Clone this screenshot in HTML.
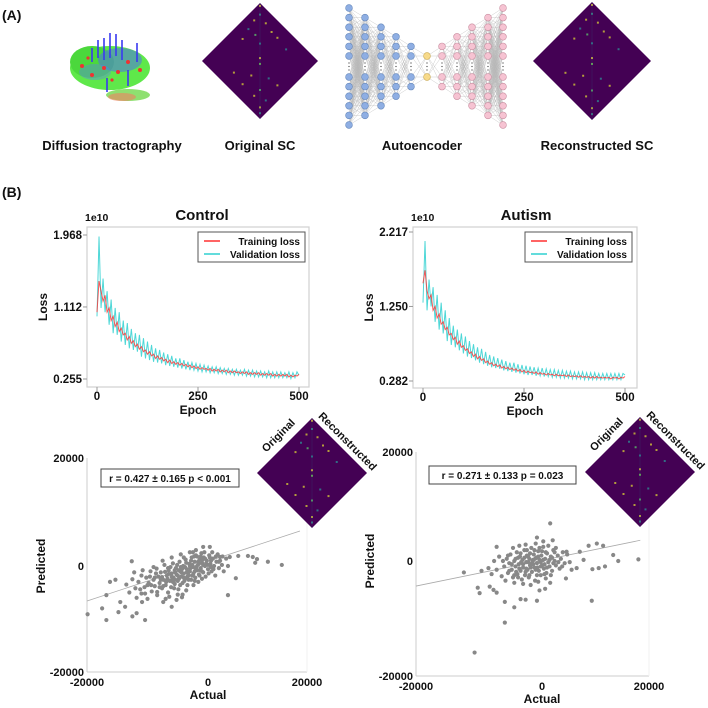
<!DOCTYPE html>
<html><head><meta charset="utf-8"><style>
html,body{margin:0;padding:0;background:#fff}
svg{display:block}
text{font-family:"Liberation Sans",Arial,sans-serif;font-weight:bold;fill:#111}
</style></head><body>
<svg id="fig" width="708" height="708" viewBox="0 0 708 708" xmlns="http://www.w3.org/2000/svg">
<text x="2" y="20" font-size="14">(A)</text>
<text x="2" y="197" font-size="14">(B)</text>
<g id="brain">
 <ellipse cx="110" cy="68" rx="40" ry="22" fill="#5fe84a"/>
 <ellipse cx="92" cy="62" rx="22" ry="16" fill="#4bd83c"/>
 <ellipse cx="128" cy="95" rx="22" ry="6" fill="#8ee070"/>
 <ellipse cx="122" cy="97" rx="14" ry="4" fill="#f08060" opacity="0.6"/>
 <ellipse cx="120" cy="60" rx="22" ry="12" fill="#4f6fe8" opacity="0.55"/>
 <ellipse cx="95" cy="72" rx="16" ry="8" fill="#5a80f0" opacity="0.4"/>
 <g stroke="#3a3af0" stroke-width="1.6">
  <line x1="104" y1="38" x2="104" y2="60"/><line x1="110" y1="33" x2="110" y2="58"/><line x1="116" y1="34" x2="116" y2="56"/>
  <line x1="122" y1="40" x2="122" y2="60"/><line x1="98" y1="40" x2="98" y2="58"/><line x1="137" y1="43" x2="137" y2="62"/>
  <line x1="107" y1="78" x2="107" y2="92"/><line x1="128" y1="70" x2="128" y2="86"/><line x1="92" y1="48" x2="92" y2="62"/>
 </g>
 <g fill="#ee3333">
  <circle cx="82" cy="66" r="2"/><circle cx="92" cy="75" r="2"/><circle cx="104" cy="68" r="2"/><circle cx="118" cy="72" r="2"/>
  <circle cx="128" cy="62" r="2"/><circle cx="140" cy="70" r="2"/><circle cx="88" cy="58" r="1.6"/><circle cx="112" cy="80" r="1.6"/>
 </g>
</g>
<text x="112" y="150" font-size="13" text-anchor="middle">Diffusion tractography</text>
<text x="260" y="150" font-size="13" text-anchor="middle">Original SC</text>
<text x="422" y="150" font-size="13" text-anchor="middle">Autoencoder</text>
<text x="597" y="150" font-size="13" text-anchor="middle">Reconstructed SC</text>
<g id="ae"></g>
<g id="loss"></g>
<g id="scatter"></g>
<g id="diamonds"></g>
</svg>
<script>
// ---------- Loss data (x1e10), epochs every 5 ----------
const epochs = [0,5,10,15,20,25,30,35,40,45,50,55,60,65,70,75,80,85,90,95,100,105,110,115,120,125,130,135,140,145,150,155,160,165,170,175,180,185,190,195,200,205,210,215,220,225,230,235,240,245,250,255,260,265,270,275,280,285,290,295,300,305,310,315,320,325,330,335,340,345,350,355,360,365,370,375,380,385,390,395,400,405,410,415,420,425,430,435,440,445,450,455,460,465,470,475,480,485,490,495,500];
const controlTrain = [1.05,1.42,1.30,1.18,1.25,1.05,1.10,0.95,1.00,0.88,0.93,0.82,0.86,0.78,0.80,0.72,0.76,0.68,0.71,0.64,0.67,0.61,0.64,0.58,0.60,0.55,0.58,0.53,0.55,0.50,0.53,0.49,0.51,0.47,0.49,0.45,0.48,0.44,0.46,0.43,0.45,0.42,0.44,0.41,0.43,0.40,0.42,0.39,0.41,0.38,0.40,0.37,0.39,0.37,0.38,0.36,0.38,0.35,0.37,0.35,0.37,0.34,0.36,0.34,0.36,0.33,0.35,0.33,0.35,0.33,0.34,0.32,0.34,0.32,0.34,0.31,0.33,0.31,0.33,0.31,0.33,0.30,0.32,0.30,0.32,0.30,0.32,0.29,0.31,0.29,0.31,0.29,0.31,0.29,0.31,0.28,0.30,0.28,0.30,0.29,0.31];
const controlVal = [1.00,1.95,1.10,1.45,1.05,1.30,0.90,1.20,0.80,1.10,0.78,1.05,0.70,0.95,0.66,0.92,0.62,0.85,0.60,0.80,0.58,0.78,0.52,0.74,0.50,0.70,0.48,0.66,0.46,0.62,0.45,0.60,0.44,0.57,0.42,0.55,0.41,0.53,0.40,0.50,0.39,0.50,0.38,0.48,0.37,0.46,0.36,0.45,0.36,0.44,0.35,0.43,0.34,0.42,0.34,0.41,0.33,0.40,0.33,0.40,0.32,0.39,0.32,0.38,0.31,0.38,0.31,0.37,0.30,0.37,0.30,0.36,0.30,0.37,0.29,0.36,0.29,0.36,0.28,0.35,0.28,0.35,0.28,0.34,0.27,0.35,0.27,0.34,0.27,0.34,0.27,0.34,0.27,0.33,0.27,0.34,0.26,0.33,0.27,0.34,0.30];
const autismTrain = [1.55,1.72,1.45,1.35,1.40,1.20,1.25,1.10,1.15,1.02,1.05,0.95,0.98,0.88,0.90,0.82,0.85,0.76,0.80,0.72,0.74,0.68,0.70,0.64,0.66,0.60,0.63,0.57,0.60,0.55,0.57,0.52,0.54,0.50,0.52,0.48,0.50,0.47,0.49,0.45,0.47,0.44,0.46,0.43,0.45,0.42,0.44,0.41,0.43,0.40,0.42,0.39,0.41,0.39,0.40,0.38,0.40,0.37,0.39,0.37,0.38,0.36,0.38,0.36,0.37,0.35,0.37,0.35,0.36,0.35,0.36,0.34,0.36,0.34,0.35,0.34,0.35,0.33,0.35,0.33,0.34,0.33,0.34,0.32,0.34,0.32,0.34,0.32,0.33,0.32,0.33,0.32,0.33,0.31,0.33,0.32,0.33,0.31,0.33,0.32,0.34];
const autismVal = [1.30,2.10,1.20,1.60,1.25,1.50,1.05,1.40,0.95,1.30,0.90,1.20,0.80,1.10,0.75,1.00,0.72,0.95,0.68,0.90,0.64,0.86,0.60,0.80,0.58,0.76,0.55,0.72,0.52,0.70,0.50,0.66,0.48,0.62,0.46,0.60,0.45,0.58,0.44,0.56,0.42,0.54,0.41,0.52,0.40,0.52,0.39,0.50,0.38,0.49,0.37,0.48,0.36,0.47,0.36,0.46,0.35,0.45,0.35,0.45,0.34,0.44,0.34,0.43,0.33,0.43,0.33,0.42,0.32,0.42,0.32,0.41,0.32,0.41,0.31,0.40,0.31,0.40,0.31,0.40,0.30,0.39,0.30,0.39,0.30,0.39,0.30,0.38,0.30,0.38,0.30,0.38,0.30,0.38,0.30,0.38,0.30,0.38,0.30,0.38,0.36];
const controlYTicks = [0.255,1.112,1.968];
const autismYTicks = [0.282,1.250,2.217];
const epochTicks = [0,250,500];

// ---------- Scatter data (thousands) ----------
const controlActual = [-19.9,-16.8,-17.5,-16.8,-16.2,-15.3,-12.6,-12.5,-11.8,-10.4,-10.9,-14.5,-13.7,-14.8,0.3,-0.8,3.3,4.6,6.6,7.4,8.1,7.8,9.9,12.2,5.0,3.6,-4.3,-6.0,-7.4,-8.4,2.0,-2.5,
-13.5,-13,-12.5,-12,-11.8,-11.5,-11,-11,-10.5,-10.2,-10,-9.8,-9.5,-9.3,-9,-8.8,-8.5,-8.4,-8.2,-8,-7.8,-7.6,-7.4,-7.2,-7,-6.8,-6.6,-6.5,-6.3,-6.1,-6,-5.8,-5.7,-5.5,-5.3,-5.2,-5,-4.9,-4.7,-4.6,-4.4,-4.2,-4.1,-4,-3.8,-3.7,-3.5,-3.4,-3.2,-3.1,-3,-2.8,-2.7,-2.5,-2.4,-2.2,-2.1,-2,-1.8,-1.7,-1.5,-1.4,-1.2,-1.1,-1,-0.8,-0.7,-0.5,-0.4,-0.2,0,0.2,0.4,0.6,0.8,1,1.2,1.4,1.6,1.8,2,2.3,2.6,3,3.3,-9,-10.8,-12.2,-7.5,-6,-4.5,-3,-2,-5,-3.6,-2.4,-1.6,-7,
-7.6,-7.1,-6.7,-6.2,-5.9,-5.4,-5.1,-4.8,-4.3,-3.9,-3.6,-3.3,-2.9,-2.6,-2.3,-1.9,-1.3,-0.9,-0.3,0.1,0.5,-6.9,-5.6,-4.4,-3.4,-2.2,-1,-8.6,-9.4,-10.4,-4,-2.8,-1.6,-0.6,0.7,1.3,-6.4,-5.2,-4.2,
-6.5,-6,-5.5,-5,-4.5,-4,-3.5,-3,-2.5,-2,-1.5,-1,-0.5,0,0.5,-7,-8,-7.8,-5.8,-4.6,-3.8,-2.6,-1.8,-0.8,0.3,-6.6,-5.4,-4.8,-3.2,-2.2,-1.2,-9.6,-10,-11.2,-8.8,-7.4,-1.4,1.8,2.4,0.9];
const controlPred = [-9.1,-10.2,-8.0,-5.5,-3.0,-2.6,0.9,-9.5,-8.9,-10.2,-6.8,-6.8,-7.7,-8.7,3.6,3.6,-5.5,-2.3,1.9,1.7,1.3,0.6,0.8,0.2,1.9,1.7,-5.9,-7.7,-6.8,-4.9,1.7,2.6,
-3.5,-5,-2.5,-4.2,-6,-3,-1.8,-5.2,-4,-2.2,-6.2,-3.2,-1,-4.8,-2.6,-3.8,-0.5,-5.5,-2,-3.2,-1.2,-4.2,-2.6,0.2,-3.6,-1.8,-5,-0.8,-2.8,-4,-1.4,0.5,-2.2,-3.4,-0.4,-1.6,-2.8,-4.4,0.8,-1,-2,-3.2,0,-1.4,-2.4,1.2,-0.6,-3.6,-1.8,0.4,-1,-2.6,1.6,-0.2,-1.4,0.8,-2.2,2,-0.8,0.2,-1.6,1.2,-0.4,2.4,0.6,-1.2,1.6,0,-2,1,-0.6,2,0.4,-1,1.4,0,-1.8,0.8,2.2,-0.4,1,0.2,-1,1.4,0,-0.2,-0.8,-1.2,1,1.6,2.2,2.6,3,-5.4,-4.6,-3.6,-3,-6.2,
-2.1,-1.1,-2.4,-0.2,-2.5,-1.2,0.2,-2.4,-0.6,-2.8,0.6,-1.4,-0.4,-1.8,1.8,-0.2,-0.8,1.2,0.4,-1.4,1,-3,-4.2,-1.2,-2,-1,-2.4,-1.4,-3.6,-5.2,1.6,1,0.8,2.6,2.6,1.8,-5.8,-6.4,-5.4,
-1.5,-2,-0.8,-1.8,-0.2,-2.2,-1.2,0,-1.8,-0.6,0.4,-1,1.4,0.2,-0.2,-2.8,-4,-2.6,-3,-3.6,-0.2,0.2,1.8,0.2,1.6,-0.4,-2.6,-0.8,-2.6,-2.8,1.8,-2,-3.6,-4.4,-2.2,-3.8,-1.8,0.8,1.8,-0.6];
const autismActual = [1.3,-0.8,1.7,-10.7,-5.9,-4.4,-5.9,-3.4,-2.6,-0.8,7.9,-12.4,-10.2,-9.9,-9.6,-7.2,7.4,8.7,9.7,11.3,12.1,15.3,10,9,8,5.5,4.7,3.8,1.3,0.5,-0.4,-8.3,-7.7,-7.2,-8.5,6.6,6,3.9,
-6,-5.6,-5.4,-5.2,-5,-4.8,-4.6,-4.4,-4.2,-4,-3.9,-3.7,-3.5,-3.4,-3.2,-3.1,-3,-2.8,-2.7,-2.5,-2.4,-2.3,-2.1,-2,-1.9,-1.7,-1.6,-1.5,-1.3,-1.2,-1.1,-0.9,-0.8,-0.6,-0.5,-0.4,-0.2,-0.1,0,0.2,0.3,0.5,0.7,0.8,1,1.2,1.4,1.6,1.8,2,2.2,2.5,2.8,3,3.3,3.6,-6.4,-6.8,-7.2,-5.8,-4.4,-3,-1.8,-0.6,0.6,-2.6,-1,0.2,-4.6,-3.6,1,2.2,4,4.4,-7.6,-8,-2.2,-1.4,-0.2,-3.3,-2.5,-1.1,0.4,-4.1,-1.9,1.6,-3.8,-0.7,
-3,-2.6,-2.2,-1.8,-1.4,-1,-0.6,-0.2,0.2,0.6,-3.6,-4.2,-4.8,-5.4,-2.4,-1.2,0,1.2,2.6,3.2,-3.4,-2,-0.8,0.4,1.4,-4.4,-5.2,-6.2,2,0.8,-1.6,-2.8,-3.8,-0.4,1.8];
const autismPred = [6.9,4.3,3.8,-16.8,-11.3,-8.5,-7.5,-7.0,-7.1,-7.3,-7.3,-2.1,-4.9,-5.9,-1.8,2.6,2.8,3.2,2.8,1.1,0,0.3,-1,-1.3,-1.5,-1.3,-1.6,-3.2,-4,-5.1,-5.4,-4.7,-5.3,-5.8,-1.3,0.2,1.7,1.7,
-1,0.4,-2.2,-0.4,1.2,-1.6,-3,0,-1,1.6,-2.4,-0.6,0.8,-1.8,-3.4,0.2,-1.2,2,-2.6,-0.2,1,-1.6,-3,0.4,-0.8,2.4,-2,0,1.2,-1.2,-3.6,0.6,-0.4,1.8,-1.8,0.2,-2.6,1,-0.8,2.6,-1.4,0.4,-2.2,1.4,-0.2,-1,0.8,-1.8,2,0,-0.8,1,-1.4,0.4,1.6,-0.4,-2.8,0.8,-1.6,-3.6,-4,-4.2,-4.4,-3.8,-3.2,3,3.2,3.6,2.4,2.8,2.8,2.4,1.2,-0.2,0,-2.4,-0.2,-0.6,-0.2,-0.2,-1.4,0.4,-0.6,-2,1.4,0.6,0.6,-1.2,
-0.6,-2,0.8,-1.2,0.2,-1.6,0.8,-1,0.2,1.6,-1.4,0.4,-0.6,1,2,2,1.8,0.2,-0.2,-1,1.4,-2.6,-2.6,-2.4,-2.6,-2.6,-1.8,0,1.6,-1.2,-0.4,0.6,-3,2.4,-0.4];
const controlFit = [0.375, 0.9];   // slope, intercept
const autismFit = [0.236, 0.12];

const NS='http://www.w3.org/2000/svg';
function mk(tag, attrs, parent){const e=document.createElementNS(NS,tag);for(const k in attrs)e.setAttribute(k,attrs[k]);parent.appendChild(e);return e;}
function txt(s, attrs, parent){const e=mk('text',attrs,parent);e.textContent=s;return e;}

// ---------- Autoencoder ----------
const ae=document.getElementById('ae');
const colX=[349,365,381,396,411,427,442,457,472,488,503];
const colN=[6,5,4,3,2,1,2,3,4,5,6];
const cols=colX.map((x,i)=>{const n=colN[i];const ys=[];for(let k=0;k<n;k++){ys.push(56-9.6*k);ys.push(77+9.6*k);}return ys.map(y=>[x,y]);});
const lg=mk('g',{stroke:'#999','stroke-width':'0.35',opacity:'0.7'},ae);
for(let i=0;i<cols.length-1;i++)for(const a of cols[i])for(const b of cols[i+1])mk('line',{x1:a[0],y1:a[1],x2:b[0],y2:b[1]},lg);
cols.forEach((c,i)=>{
  const fill=i<5?'#8eaee3':(i==5?'#f7da8a':'#f6c3d2');
  const st=i<5?'#6688bb':(i==5?'#c9a850':'#c98ea0');
  c.forEach(p=>{const n=mk('circle',{cx:p[0],cy:p[1],r:3.4,fill:fill,stroke:st,'stroke-width':0.6},ae);
    
    });
  for(let d=0;d<3;d++)mk('circle',{cx:colX[i],cy:63+d*3.5,r:0.6,fill:'#333'},ae);
});

// ---------- Loss plots ----------
const lossG=document.getElementById('loss');
function lossPlot(o){
  const g=mk('g',{},lossG);
  
  
  const xs=e=>o.x0+(e-0)*(o.x1-o.x0)/500;
  const ys=v=>o.yb-(v-o.ticks[0])*(o.yb-o.yt)/(o.ticks[2]-o.ticks[0]);
  mk('rect',{x:o.L,y:o.T,width:o.R-o.L,height:o.B-o.T,fill:'none',stroke:'#d0d0d0','stroke-width':1.2},g);
  o.ticks.forEach(t=>{mk('line',{x1:o.L-4,x2:o.L,y1:ys(t),y2:ys(t),stroke:'#999'},g);
    const lb=txt(t.toFixed(3),{x:o.L-5,y:ys(t)+4,'font-size':11.5,'text-anchor':'end'},g);
    
    });
  epochTicks.forEach(t=>{mk('line',{x1:xs(t),x2:xs(t),y1:o.B,y2:o.B+4,stroke:'#999'},g);
    const lb=txt(String(t),{x:xs(t),y:o.B+13,'font-size':11.5,'text-anchor':'middle'},g);
    
    });
  const pv=mk('polyline',{points:epochs.map((e,i)=>xs(e)+','+ys(o.val[i])).join(' '),fill:'none',stroke:'#2fd0d0','stroke-width':1,opacity:0.85},g);
  
  
  const pt=mk('polyline',{points:epochs.map((e,i)=>xs(e)+','+ys(o.train[i])).join(' '),fill:'none',stroke:'#ff3030','stroke-width':1,opacity:0.8},g);
  
  
  const lgd=mk('g',{},g);
  
  
  mk('rect',{x:o.lx,y:o.T+5,width:107,height:30,fill:'#fff',stroke:'#555','stroke-width':1},lgd);
  mk('line',{x1:o.lx+6,x2:o.lx+22,y1:o.T+14,y2:o.T+14,stroke:'#ff3030','stroke-width':1.5},lgd);
  mk('line',{x1:o.lx+6,x2:o.lx+22,y1:o.T+27,y2:o.T+27,stroke:'#2fd0d0','stroke-width':1.5},lgd);
  txt('Training loss',{x:o.lx+102,y:o.T+18,'font-size':10,'text-anchor':'end'},lgd);
  txt('Validation loss',{x:o.lx+102,y:o.T+31,'font-size':10,'text-anchor':'end'},lgd);
  txt(o.title,{x:o.tx,y:220,'font-size':15,'text-anchor':'middle'},g);
  txt('1e10',{x:o.L-2,y:221,'font-size':10.5},g);
  txt('Loss',{x:0,y:0,'font-size':12,transform:`translate(${o.L-40},${(o.T+o.B)/2}) rotate(-90)`,'text-anchor':'middle'},g);
  txt('Epoch',{x:(o.L+o.R)/2,y:o.B+27,'font-size':12,'text-anchor':'middle'},g);
}
lossPlot({name:'control-loss-chart',title:'Control',tx:202,L:87,R:309,T:227,B:387,x0:97,x1:299,yb:379,yt:235,ticks:controlYTicks,train:controlTrain,val:controlVal,lx:198});
lossPlot({name:'autism-loss-chart',title:'Autism',tx:526,L:413,R:637,T:227,B:388,x0:423,x1:625,yb:381,yt:232,ticks:autismYTicks,train:autismTrain,val:autismVal,lx:525});

// ---------- Scatter plots ----------
const scG=document.getElementById('scatter');
function scatter(o){
  const g=mk('g',{},scG);
  
  
  const xs=a=>o.x0+a*o.kx; const ys=p=>o.y0-p*o.ky;
  mk('line',{x1:o.L,x2:o.L,y1:o.T,y2:o.B,stroke:'#ccc'},g);
  mk('line',{x1:o.L,x2:o.R,y1:o.B,y2:o.B,stroke:'#ccc'},g);
  mk('line',{x1:o.R,x2:o.R,y1:o.T,y2:o.B,stroke:'#f2f2f2'},g);
  [[o.T,'20000'],[o.y0,'0'],[o.B,'-20000']].forEach(t=>{const lb=txt(t[1],{x:o.L-3,y:t[0]+4,'font-size':11,'text-anchor':'end'},g);
    
    });
  [[o.L,'-20000'],[o.x0,'0'],[o.R,'20000']].forEach(t=>{const lb=txt(t[1],{x:t[0],y:o.B+14,'font-size':11,'text-anchor':'middle'},g);
    
    });
  const fl=mk('line',{x1:xs(-20),y1:ys(o.fit[0]*-20+o.fit[1]),x2:xs(o.fitEnd),y2:ys(o.fit[0]*o.fitEnd+o.fit[1]),stroke:'#aaa','stroke-width':0.8},g);
  
  
  o.ax.forEach((a,i)=>{const c=mk('circle',{cx:xs(a),cy:ys(o.pr[i]),r:2.1,fill:'#888'},g);
    
    });
  const bx=mk('g',{},g);
  
  
  mk('rect',{x:o.bx,y:o.by,width:o.bw,height:18,fill:'#fff',stroke:'#444','stroke-width':1},bx);
  txt(o.stat,{x:o.bx+o.bw/2,y:o.by+13,'font-size':10,'text-anchor':'middle'},bx);
  txt('Actual',{x:o.x0,y:o.B+27,'font-size':12,'text-anchor':'middle'},g);
  txt('Predicted',{x:0,y:0,'font-size':12,transform:`translate(${o.L-42},${o.y0}) rotate(-90)`,'text-anchor':'middle'},g);
}
scatter({name:'control-scatter-chart',L:87,R:307,T:458,B:672,x0:208,y0:566,kx:6.05,ky:5.3,ax:controlActual,pr:controlPred,fit:controlFit,fitEnd:15.2,bx:101,by:469,bw:138,stat:'r = 0.427 \u00B1 0.165 p < 0.001'});
scatter({name:'autism-scatter-chart',L:416,R:649,T:452,B:676,x0:542,y0:561,kx:6.3,ky:5.45,ax:autismActual,pr:autismPred,fit:autismFit,fitEnd:15.6,bx:429,by:466,bw:147,stat:'r = 0.271 \u00B1 0.133 p = 0.023'});

// ---------- Diamonds (SC matrices) ----------
const dg=document.getElementById('diamonds');
function diamond(cx,cy,h,name){
  const g=mk('g',{},dg);
  
  
  mk('polygon',{points:`${cx},${cy-h} ${cx+h},${cy} ${cx},${cy+h} ${cx-h},${cy}`,fill:'#440154'},g);
  const sp=[[0,-0.95,'#d8c040'],[0,-0.8,'#3a8a8c'],[-0.1,-0.7,'#c8b838'],[0.1,-0.65,'#c8b838'],[-0.2,-0.55,'#2f7f8e'],[0.2,-0.5,'#c8b838'],[-0.08,-0.45,'#5ab06a'],[0.3,-0.4,'#c8b838'],[-0.3,-0.38,'#c8b838'],[0,-0.3,'#2f7f8e'],[0,-0.05,'#d8c040'],[0,0.05,'#6cbf58'],[-0.15,0.25,'#c8b838'],[0.15,0.3,'#2f7f8e'],[-0.3,0.4,'#c8b838'],[0.3,0.42,'#c8b838'],[0,0.5,'#5ab06a'],[-0.1,0.6,'#c8b838'],[0.1,0.68,'#2f7f8e'],[0,0.8,'#c8b838'],[0,0.9,'#3a8a8c'],[-0.45,0.2,'#c8b838'],[0.45,-0.2,'#2f7f8e']];
  sp.forEach(s=>mk('rect',{x:cx+s[0]*h-1,y:cy+s[1]*h-1,width:2,height:2,fill:s[2],opacity:0.85},g));
  mk('line',{x1:cx,y1:cy-h,x2:cx,y2:cy+h,stroke:'#2c5f80','stroke-width':0.6,opacity:0.35},g);
}
diamond(260,61,58,'original-sc-matrix');
diamond(592,61,59,'reconstructed-sc-matrix');
diamond(312,473,55,'control-sc-inset');
diamond(640,472,55,'autism-sc-inset');
txt('Original',{x:0,y:0,'font-size':11,transform:'translate(281,438) rotate(-45)','text-anchor':'middle'},dg);
txt('Reconstructed',{x:0,y:0,'font-size':11,transform:'translate(345,444) rotate(45)','text-anchor':'middle'},dg);
txt('Original',{x:0,y:0,'font-size':11,transform:'translate(609,437) rotate(-45)','text-anchor':'middle'},dg);
txt('Reconstructed',{x:0,y:0,'font-size':11,transform:'translate(673,443) rotate(45)','text-anchor':'middle'},dg);
</script>
</body></html>
